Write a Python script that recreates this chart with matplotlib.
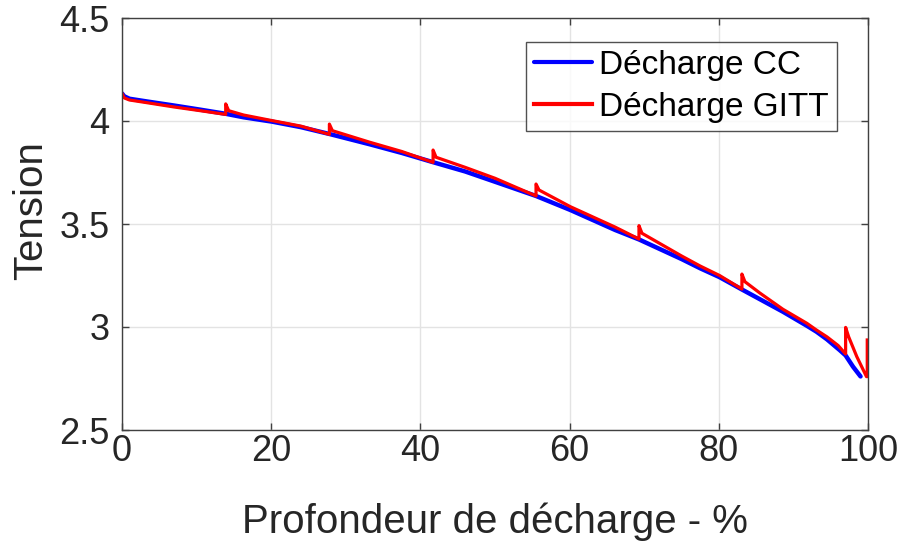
import matplotlib
matplotlib.use("Agg")
import matplotlib.pyplot as plt

plt.rcParams['font.family'] = ['Liberation Sans', 'DejaVu Sans']

# Blue: constant-current discharge
cc_dod = [0, 0.3, 1, 3.5, 7, 10.5, 13.9, 16.3, 20.1, 24, 27.8, 33.2, 37.5, 41.7,
          46, 50, 55.5, 60.1, 66.1, 69.3, 75, 77.5, 80.1, 83.1, 85.5, 88.6, 91.8,
          93.1, 94.5, 96.2, 97, 98, 99]
cc_v = [4.134, 4.120, 4.108, 4.094, 4.075, 4.055, 4.035, 4.018, 3.997, 3.970,
        3.937, 3.887, 3.845, 3.800, 3.755, 3.705, 3.636, 3.568, 3.471, 3.425,
        3.330, 3.285, 3.242, 3.182, 3.135, 3.074, 3.006, 2.977, 2.940, 2.888,
        2.862, 2.807, 2.760]

# Red: GITT discharge (pulses followed by relaxation jumps)
gitt_dod = [0, 0.3, 1, 3.5, 7, 10.5, 13.9,
            13.9, 14.3, 16.3, 20.1, 24, 27.8,
            27.8, 28.2, 33.2, 37.5, 41.7,
            41.7, 42.1, 46, 50, 55.5,
            55.5, 55.9, 60.1, 66.1, 69.3,
            69.3, 69.7, 75, 77.5, 80.1, 83.1,
            83.1, 83.5, 85.5, 88.6, 91.8, 93.1, 94.5, 96.0, 97.0,
            97.0, 97.4, 98.5, 99.8,
            99.9, 99.9]
gitt_v = [4.134, 4.112, 4.102, 4.088, 4.068, 4.050, 4.032,
          4.083, 4.050, 4.029, 4.002, 3.975, 3.935,
          3.985, 3.953, 3.897, 3.852, 3.799,
          3.859, 3.824, 3.775, 3.722, 3.636,
          3.694, 3.665, 3.584, 3.485, 3.427,
          3.492, 3.455, 3.345, 3.296, 3.250, 3.184,
          3.257, 3.220, 3.165, 3.086, 3.018, 2.985, 2.952, 2.910, 2.869,
          2.998, 2.953, 2.856, 2.759,
          2.759, 2.937]

x_ticks = [0, 20, 40, 60, 80, 100]
y_ticks = [2.5, 3, 3.5, 4, 4.5]
y_tick_labels = ['2.5', '3', '3.5', '4', '4.5']
labels = ['Décharge CC', 'Décharge GITT']

fig = plt.figure(figsize=(9.02, 5.43), dpi=100)
ax = fig.add_axes([122/902, 1-430/543, (868-122)/902, (430-18)/543])

ax.plot(cc_dod, cc_v, color=(0, 0, 1), lw=3.2, label=labels[0], solid_capstyle='round')
ax.plot(gitt_dod, gitt_v, color=(1, 0, 0), lw=2.3, label=labels[1])

ax.set_xlim(0, 100)
ax.set_ylim(2.5, 4.5)
ax.set_xticks(x_ticks)
ax.set_xticklabels([str(t) for t in x_ticks])
ax.set_yticks(y_ticks)
ax.set_yticklabels(y_tick_labels)

ax.grid(True, color='#e3e3e3', lw=1.0)
ax.set_axisbelow(True)

for s in ax.spines.values():
    s.set_color('#404040')
    s.set_linewidth(1.0)

ax.tick_params(direction='in', length=5, width=1, colors='#404040',
               labelcolor='#262626', labelsize=26, top=True, right=True)
ax.tick_params(axis='x', pad=3)
ax.tick_params(axis='y', pad=9)

ax.set_xlabel('Profondeur de décharge - %', fontsize=29, color='#262626', labelpad=24)
ax.set_ylabel('Tension', fontsize=29, color='#262626', labelpad=8)
ax.yaxis.set_label_coords(-0.097, (430-211)/412)

leg = ax.legend(loc='upper right', bbox_to_anchor=((837-122)/746, (430-41.7)/412),
                fontsize=24, frameon=True, fancybox=False, edgecolor='#262626',
                handlelength=1.75, handletextpad=0.2, borderpad=0.25, labelspacing=0.32,
                borderaxespad=0, handleheight=0.7)
leg.get_frame().set_linewidth(1.0)
for h in leg.get_lines():
    h.set_linewidth(3.0)

fig.savefig('out.png', dpi=100)
